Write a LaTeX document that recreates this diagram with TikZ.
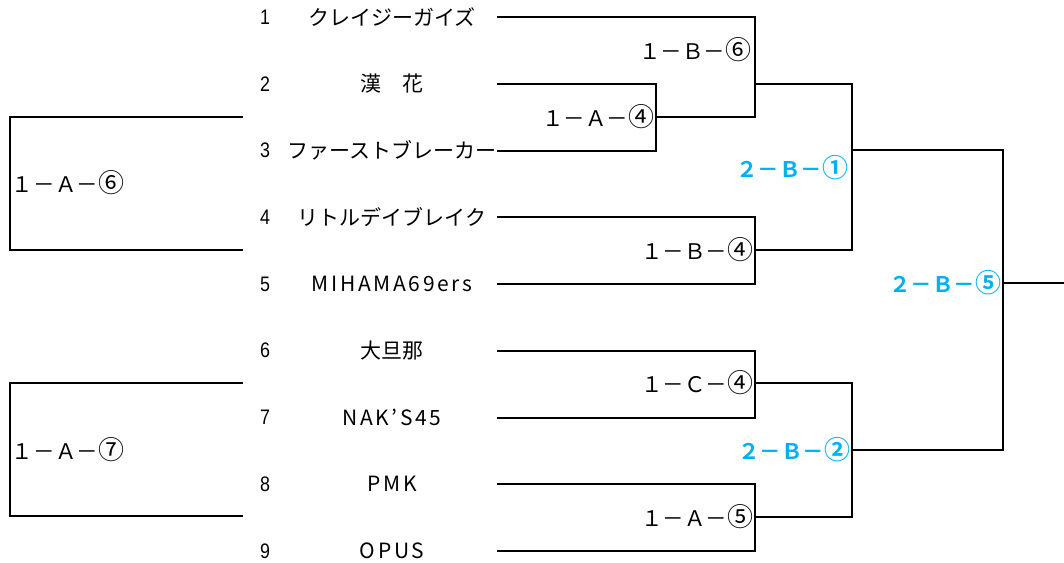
\documentclass[tikz,border=0pt]{standalone}
\usepackage{fontspec}
\setmainfont{Noto Sans CJK JP}[BoldFont=Noto Sans CJK JP Bold]
\newfontfamily\numfont{Liberation Sans}[FakeStretch=0.85]
\newcommand{\lat}[1]{{\addfontfeature{LetterSpace=13}#1}}
\newcommand{\maru}[1]{{\fontsize{26}{21}\selectfont#1}}
\definecolor{celeste}{RGB}{0,176,240}
\begin{document}
\begin{tikzpicture}[x=1pt,y=-1pt,line width=2pt,
    team/.style={inner sep=0pt,font=\fontsize{21}{21}\selectfont},
    num/.style={inner sep=0pt,font=\numfont\fontsize{21}{21}\selectfont},
    lab/.style={inner sep=1pt,anchor=east,font=\fontsize{21.5}{21.5}\selectfont},
    lab2/.style={lab,text=celeste,font=\bfseries\fontsize{21.5}{21.5}\selectfont}]
\useasboundingbox (0,0) rectangle (1064,562);
% equipos
\foreach \i/\nom in {1/クレイジーガイズ,2/漢　花,3/ファーストブレーカー,4/リトルデイブレイク,
    5/\lat{MIHAMA69ers},6/大旦那,7/\lat{NAK’S45},8/\lat{PMK},9/\lat{OPUS}} {
  \node[num] (k\i) at (265,{17+(\i-1)*66.75}) {\i};
  \node[team] (n\i) at (392,{17+(\i-1)*66.75}) {\nom};
  \coordinate (s\i) at (497,{17+(\i-1)*66.75});
}
% cruces
\coordinate (a4) at (656,117);
\coordinate (b6) at (755,84);
\coordinate (b4) at (755,250);
\coordinate (c4) at (755,383);
\coordinate (a5) at (755,517);
\coordinate (q1) at (852,150);
\coordinate (q2) at (852,450);
\coordinate (q5) at (1003,283);
\coordinate (fin) at (1064,283);
\draw (s2) -| (a4) |- (s3);
\draw (s1) -| (b6) |- (a4);
\draw (s4) -| (b4) |- (s5);
\draw (s6) -| (c4) |- (s7);
\draw (s8) -| (a5) |- (s9);
\draw (b6) -| (q1) |- (b4);
\draw (c4) -| (q2) |- (a5);
\draw (q1) -| (q5) |- (q2);
\draw (q5) -- (fin);
% cuadros izquierda
\coordinate (l1t) at (243,117);
\coordinate (l1c) at (10,183);
\coordinate (l1b) at (243,250);
\coordinate (l2t) at (243,383);
\coordinate (l2c) at (10,450);
\coordinate (l2b) at (243,516);
\draw (l1t) -| (l1c) |- (l1b);
\draw (l2t) -| (l2c) |- (l2b);
\node[lab,anchor=west] (m6) at (l1c) {１－Ａ－\maru{⑥}};
\node[lab,anchor=west] (m7) at (l2c) {１－Ａ－\maru{⑦}};
% partidos
\node[lab] (ma4) at (a4) {１－Ａ－\maru{④}};
\node[lab] (mb6) at (753,50) {１－Ｂ－\maru{⑥}};
\node[lab] (mb4) at (b4) {１－Ｂ－\maru{④}};
\node[lab] (mc4) at (c4) {１－Ｃ－\maru{④}};
\node[lab] (ma5) at (a5) {１－Ａ－\maru{⑤}};
\node[lab2] (mq1) at (850,168) {２－Ｂ－\maru{①}};
\node[lab2] (mq2) at (q2) {２－Ｂ－\maru{②}};
\node[lab2] (mq5) at (q5) {２－Ｂ－\maru{⑤}};
\end{tikzpicture}
\end{document}
